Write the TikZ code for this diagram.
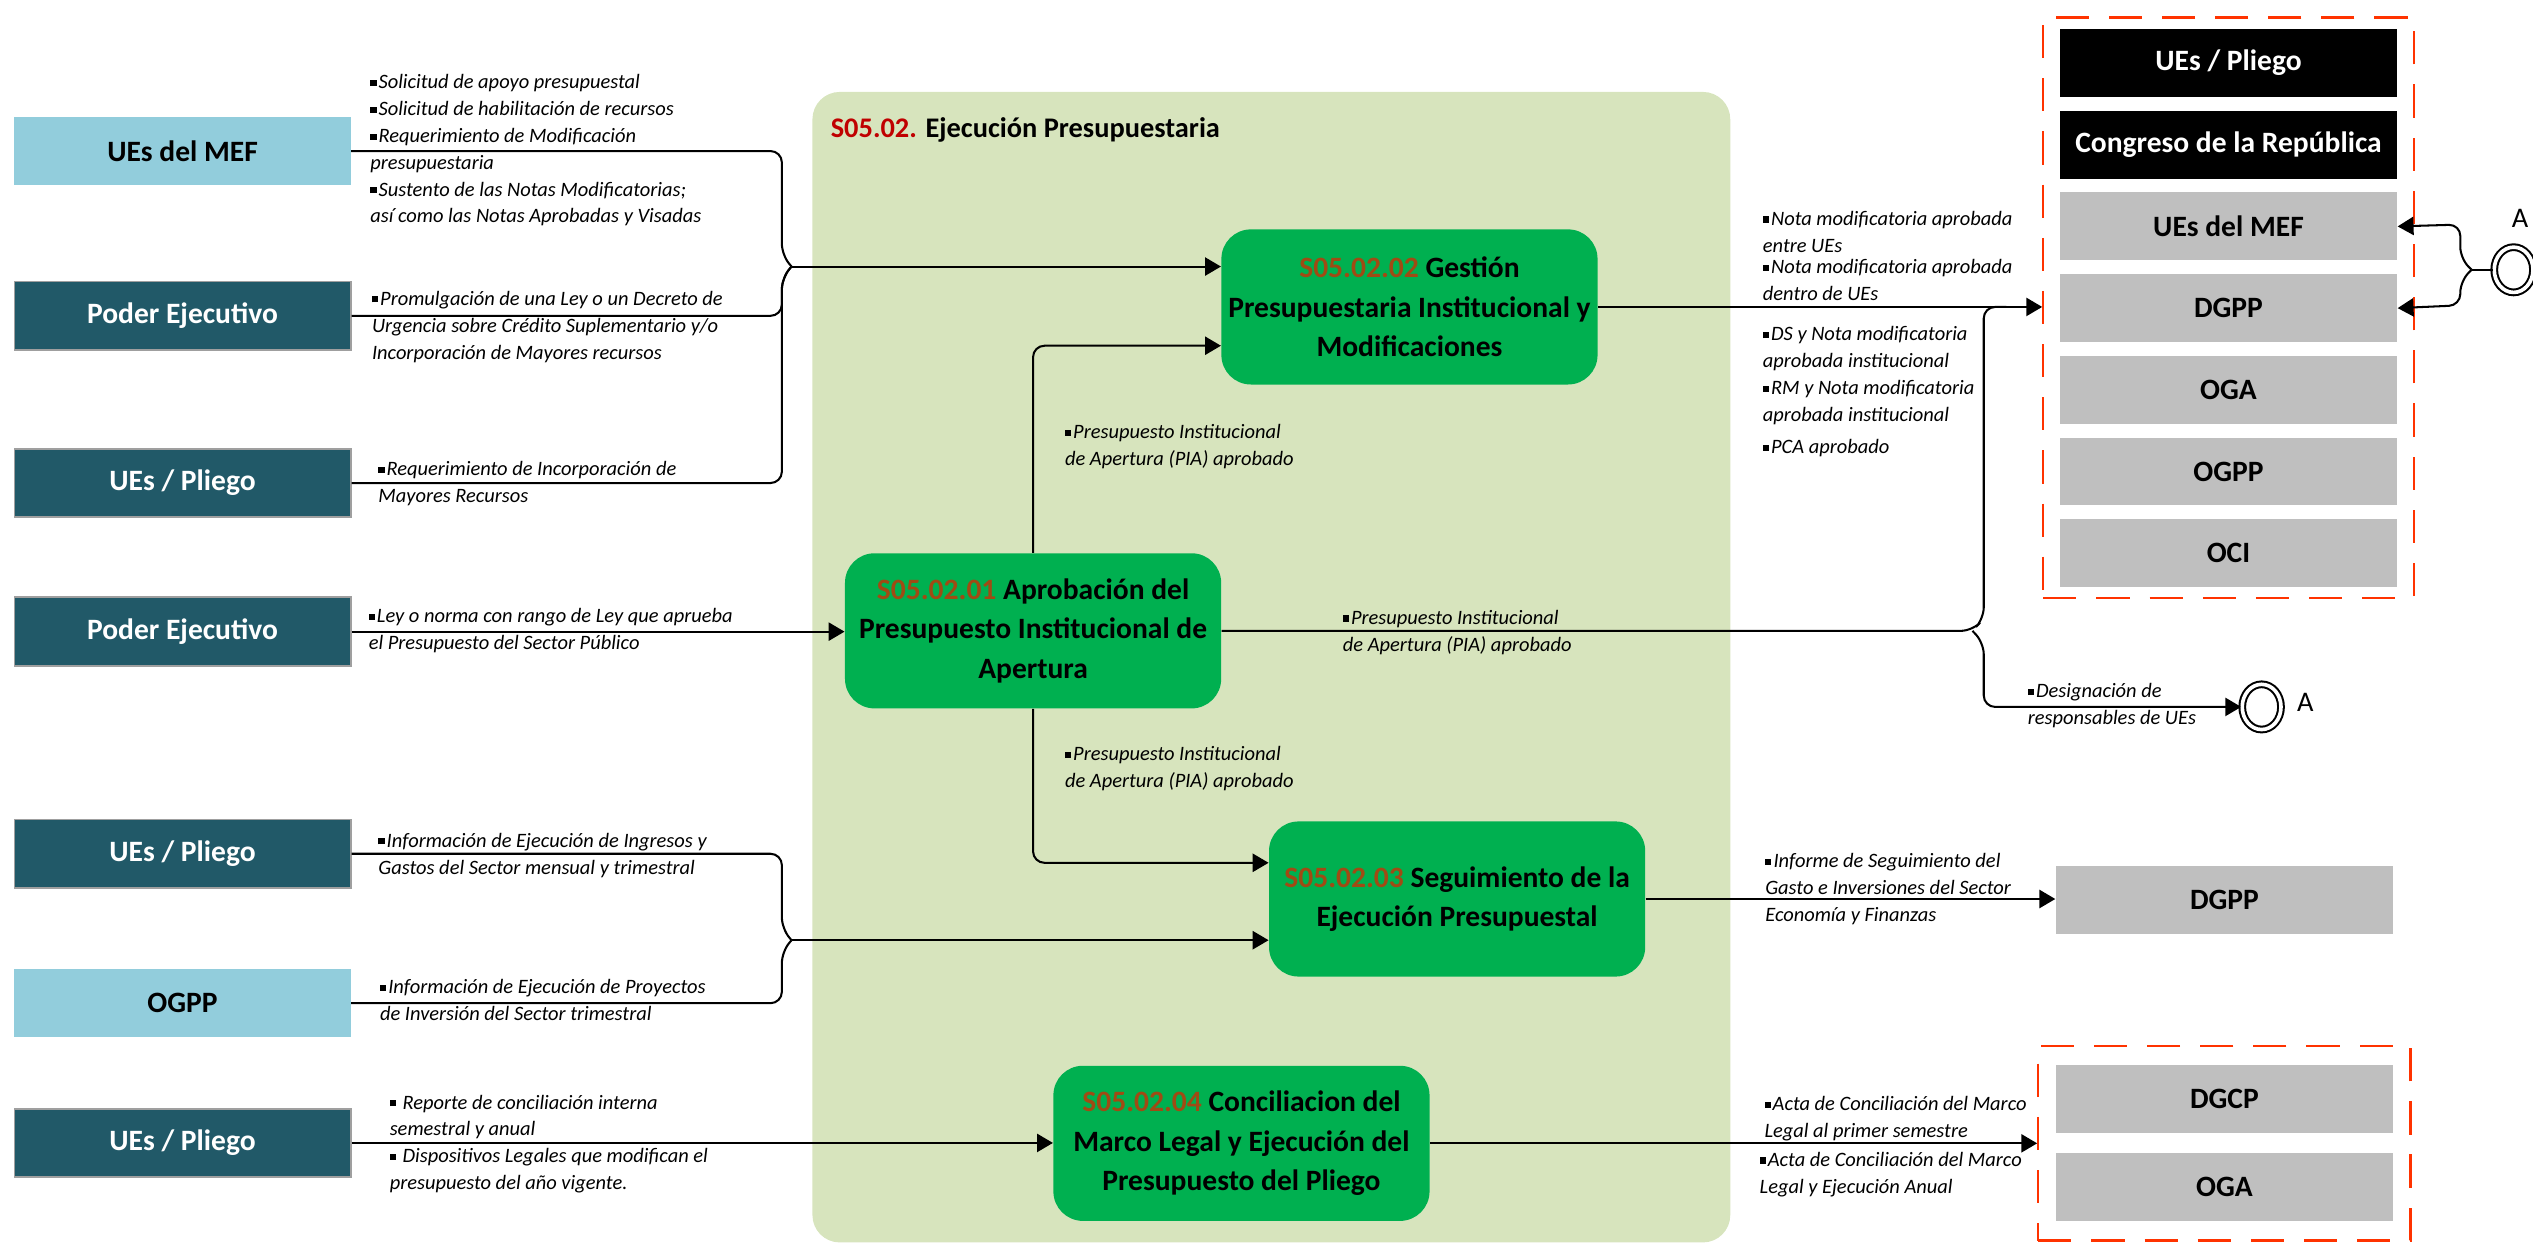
\documentclass[tikz,border=0pt]{standalone}
\usepackage{fontspec}
\setmainfont{Carlito}
\usetikzlibrary{arrows.meta,positioning,shapes.geometric}
\definecolor{celeste}{HTML}{92CDDC}
\definecolor{petroleo}{HTML}{215968}
\definecolor{verde}{HTML}{00B050}
\definecolor{oliva}{HTML}{D7E4BD}
\definecolor{gris}{HTML}{BFBFBF}
\definecolor{rojo}{HTML}{C00000}
\definecolor{cafe}{RGB}{160,75,20}
\definecolor{naranja}{HTML}{FF3300}
\newcommand{\sqb}{\rule[.3ex]{.3em}{.3em}\kern.1em}
\tikzstyle{actor}=[minimum width=5.2cm, minimum height=1.06cm, inner sep=0, font=\fontsize{13}{16}\selectfont\bfseries]
\tikzstyle{ext}=[actor, fill=petroleo, draw=gray!75, line width=0.8pt, text=white]
\tikzstyle{int}=[actor, fill=celeste]
\tikzstyle{proc}=[fill=verde, rounded corners=13pt, minimum width=5.82cm, minimum height=2.4cm, align=center, inner sep=0, font=\fontsize{13}{17.4}\selectfont\bfseries]
\tikzstyle{dest}=[fill=gris, minimum width=5.22cm, minimum height=1.05cm, inner sep=0, font=\fontsize{13}{16}\selectfont\bfseries]
\tikzstyle{destn}=[dest, fill=black, text=white]
\tikzstyle{grp}=[draw=naranja, line width=1pt, dash pattern=on 14.6pt off 8.8pt]
\tikzstyle{txt}=[align=left, anchor=north west, inner sep=0, font=\fontsize{9}{11.8}\selectfont\itshape]
\tikzstyle{flow}=[line width=0.9pt]
\tikzstyle{fin}=[draw, ellipse, line width=0.9pt, double, double distance=1.6pt, minimum width=0.6cm, minimum height=0.7cm, inner sep=0]

\begin{document}
\begin{tikzpicture}[x=0.025cm,y=-0.025cm,>={Triangle[length=7pt,width=8pt]}]
    \useasboundingbox (0,0) rectangle (1568,771);
    % fondo del subproceso
    \node[fill=oliva, rounded corners=12pt, minimum width=14.2cm, minimum height=17.8cm] (cont) at (787,413) {};
    \node[anchor=west, inner sep=0, font=\fontsize{12.5}{15}\selectfont\bfseries] (tit) at (514,80.5) {\textcolor{rojo}{S05.02.} Ejecución Presupuestaria};

    % proveedores
    \node[int] (mef) at (113,93.5) {UEs del MEF};
    \node[ext] (pe1) at (113,195.5) {Poder Ejecutivo};
    \node[ext] (pl1) at (113,299) {UEs / Pliego};
    \node[ext] (pe2) at (113,391) {Poder Ejecutivo};
    \node[ext] (pl2) at (113,528.5) {UEs / Pliego};
    \node[int] (ogpp) at (113,621) {OGPP};
    \node[ext] (pl3) at (113,707.5) {UEs / Pliego};

    % procesos
    \node[proc] (gest) at (872.5,190) {\textcolor{cafe}{S05.02.02} Gestión\\Presupuestaria Institucional y\\Modificaciones};
    \node[proc] (apro) at (639.5,390.5) {\textcolor{cafe}{S05.02.01} Aprobación del\\Presupuesto Institucional de\\Apertura};
    \node[proc] (seg) at (902,556.5) {\textcolor{cafe}{S05.02.03} Seguimiento de la\\Ejecución Presupuestal};
    \node[proc] (conc) at (768.5,707.75) {\textcolor{cafe}{S05.02.04} Conciliacion del\\Marco Legal y Ejecución del\\Presupuesto del Pliego};

    % clientes
    \node[grp, minimum width=5.73cm, minimum height=8.98cm] (g1) at (1379.5,190.4) {};
    \node[destn] (r1) at (1379.5,39) {UEs / Pliego};
    \node[destn, below=0.2cm of r1] (r2) {Congreso de la República};
    \node[dest, below=0.2cm of r2] (r3) {UEs del MEF};
    \node[dest, below=0.2cm of r3] (r4) {DGPP};
    \node[dest, below=0.2cm of r4] (r5) {OGA};
    \node[dest, below=0.2cm of r5] (r6) {OGPP};
    \node[dest, below=0.2cm of r6] (r7) {OCI};
    \node[dest] (d1) at (1377,557) {DGPP};
    \node[grp, minimum width=5.76cm, minimum height=3.01cm] (g2) at (1377,707.75) {};
    \node[dest] (d2) at (1377,680.3) {DGCP};
    \node[dest, below=0.3cm of d2] (d3) {OGA};

    % conectores A
    \node[fin] (fa) at (1556,167) {};
    \node[inner sep=0, font=\fontsize{12.5}{15}\selectfont] (la) at (1560,135) {A};
    \node[fin] (fb) at (1400,437.6) {};
    \node[inner sep=0, font=\fontsize{12.5}{15}\selectfont] (lb) at (1427,435) {A};

    % entradas
    \coordinate (j1) at (490,165);
    \coordinate (j2) at (490,582);
    \draw[flow,rounded corners=5pt] (mef.east) -- (484,93.5) -- (484,158) -- (j1);
    \draw[flow,rounded corners=5pt] (pe1.east) -- (484,195.5) -- (484,172) -- (j1);
    \draw[flow,rounded corners=5pt] (pl1.east) -- (484,299) -- (484,172) -- (j1);
    \draw[flow,->] (j1) -- (j1 -| gest.west);
    \draw[flow,->] (pe2.east) -- (pe2.east -| apro.west);
    \draw[flow,rounded corners=5pt] (pl2.east) -- (484,528.5) -- (484,575) -- (j2);
    \draw[flow,rounded corners=5pt] (ogpp.east) -- (484,621) -- (484,589) -- (j2);
    \draw[flow,->] (j2) -- (j2 -| seg.west);
    \draw[flow,->] (pl3.east) -- (pl3.east -| conc.west);

    % entre procesos
    \draw[flow,->,rounded corners=5pt] (apro.north) |- ([yshift=-0.6cm]gest.west);
    \draw[flow,->,rounded corners=5pt] (apro.south) |- ([yshift=0.56cm]seg.west);

    % salidas
    \coordinate (k1) at (1221,390.5);
    \coordinate (k2) at (1242,190);
    \coordinate (k3) at (1530,167);
    \draw[flow,->] (gest.east) -- (gest.east -| g1.west);
    \draw[flow,rounded corners=5pt] (apro.east) -- (k1) -- (1228,383) -- (1228,190) -- (k2);
    \draw[flow,->,rounded corners=5pt] (k1) -- (1228,398) -- (1228,437.6) -- (fb.west);
    \draw[flow] (fa.west) -- (k3);
    \draw[flow,->,rounded corners=5pt] (k3) -- (1523,160) -- (1523,139) -- (r3.east);
    \draw[flow,->,rounded corners=5pt] (k3) -- (1523,174) -- (1523,189) -- (r4.east);
    \draw[flow,->] (seg.east) -- (seg.east -| d1.west);
    \draw[flow,->] (conc.east) -- (conc.east -| g2.west);

    % textos de entradas y salidas
    \node[txt] (t1) at (229,46) {\sqb Solicitud de apoyo presupuestal\\\sqb Solicitud de habilitación de recursos\\\sqb Requerimiento de Modificación\\presupuestaria\\\sqb Sustento de las Notas Modificatorias;\\así como las Notas Aprobadas y Visadas};
    \node[txt] (t2) at (230,180) {\sqb Promulgación de una Ley o un Decreto de\\Urgencia sobre Crédito Suplementario y/o\\Incorporación de Mayores recursos};
    \node[txt] (t3) at (234,285.5) {\sqb Requerimiento de Incorporación de\\Mayores Recursos};
    \node[txt] (t4) at (228,376.5) {\sqb Ley o norma con rango de Ley que aprueba\\el Presupuesto del Sector Público};
    \node[txt] (t5) at (234,515.5) {\sqb Información de Ejecución de Ingresos y\\Gastos del Sector mensual y trimestral};
    \node[txt] (t6) at (235,606) {\sqb Información de Ejecución de Proyectos\\de Inversión del Sector trimestral};
    \node[txt] (t7) at (241,677.5) {\sqb{} Reporte de conciliación interna\\semestral y anual\\\sqb{} Dispositivos Legales que modifican el\\presupuesto del año vigente.};
    \node[txt] (t8) at (659,262.5) {\sqb Presupuesto Institucional\\de Apertura (PIA) aprobado};
    \node[txt] (t9) at (659,462) {\sqb Presupuesto Institucional\\de Apertura (PIA) aprobado};
    \node[txt] (t10) at (831,377.5) {\sqb Presupuesto Institucional\\de Apertura (PIA) aprobado};
    \node[txt] (t11) at (1091,130.5) {\sqb Nota modificatoria aprobada\\entre UEs};
    \node[txt] (t12) at (1091,160.5) {\sqb Nota modificatoria aprobada\\dentro de UEs};
    \node[txt] (t13) at (1091,202) {\sqb DS y Nota modificatoria\\aprobada institucional\\\sqb RM y Nota modificatoria\\aprobada institucional\\[2.5pt]\sqb PCA aprobado};
    \node[txt] (t14) at (1255,423) {\sqb Designación de\\responsables de UEs};
    \node[txt] (t15) at (1092.5,528) {\sqb Informe de Seguimiento del\\Gasto e Inversiones del Sector\\Economía y Finanzas};
    \node[txt] (t16) at (1092,678.5) {\sqb Acta de Conciliación del Marco\\Legal al primer semestre};
    \node[txt] (t17) at (1089,713) {\sqb Acta de Conciliación del Marco\\Legal y Ejecución Anual};
\end{tikzpicture}
\end{document}
